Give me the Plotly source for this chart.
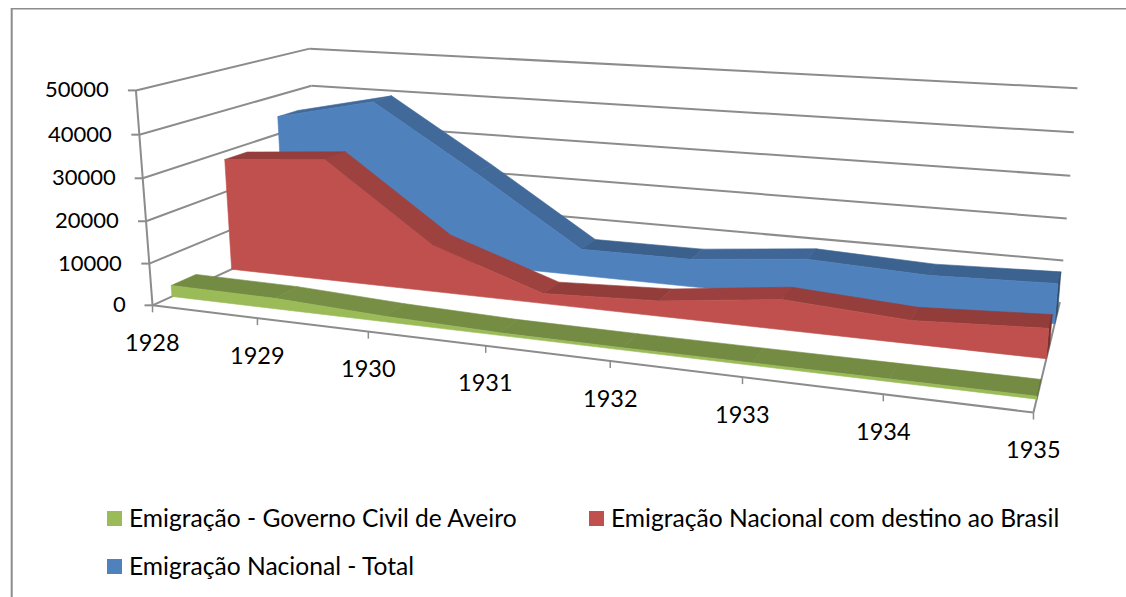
import numpy as np
import plotly.graph_objects as go

years = ["1928", "1929", "1930", "1931", "1932", "1933", "1934", "1935"]
aveiro = [2700, 2500, 1300, 600, 500, 500, 550, 600]
brasil = [28000, 30000, 11400, 2400, 3600, 6900, 5200, 6600]
total = [34500, 40000, 23800, 6700, 6800, 9500, 8400, 9300]
value_ticks = [0, 10000, 20000, 30000, 40000, 50000]
names = ["Emigração - Governo Civil de Aveiro",
         "Emigração Nacional com destino ao Brasil",
         "Emigração Nacional - Total"]
front_colors = ["#9BBB59", "#C0504D", "#4F81BD"]

W, H = 1126, 597
FONT = "Lato"
GRID = "#8C8C8C"
VMAX = 50000.0

# camera of the 3-D box, solved from where the box sits on the page
world = [(0, 0, 0), (1, 0, 0), (1, 1, 0), (0, 1, 0), (0, 0, 1), (0, 1, 1), (1, 1, 1),
         (1/7, 0, 0), (2/7, 0, 0), (3/7, 0, 0), (4/7, 0, 0), (5/7, 0, 0), (6/7, 0, 0)]
page = [(152.7, 303.3), (1034, 411.7), (1060, 300), (318, 232), (135.7, 91), (310, 47.3), (1077.3, 89.3),
        (257.7, 319), (368.3, 331.7), (485.7, 344), (610, 361), (742.3, 378), (883, 396.7)]
A, b = [], []
for (X, Y, Z), (u, v) in zip(world, page):
    A.append([X, Y, Z, 1, 0, 0, 0, 0, -u*X, -u*Y, -u*Z]); b.append(u)
    A.append([0, 0, 0, 0, X, Y, Z, 1, -v*X, -v*Y, -v*Z]); b.append(v)
p = np.linalg.lstsq(np.array(A, float), np.array(b, float), rcond=None)[0]
P = np.append(p, 1.0).reshape(3, 4)


def proj(pts):
    pts = np.asarray(pts, float)
    h = P @ np.c_[pts, np.ones(len(pts))].T
    return h[0] / h[2], h[1] / h[2]


def shade(hex_color, f):
    rgb = [int(hex_color[i:i+2], 16) for i in (1, 3, 5)]
    return "rgb(%d,%d,%d)" % tuple(round(c * f) for c in rgb)


fig = go.Figure()


def poly(pts, color):
    x, y = proj(pts)
    fig.add_trace(go.Scatter(x=list(x) + [x[0]], y=list(y) + [y[0]], mode="lines", fill="toself",
                             fillcolor=color, line=dict(color=color, width=0.6),
                             hoverinfo="skip", showlegend=False))


def line(a, b_, color=GRID, width=2):
    x, y = proj([a, b_])
    fig.add_trace(go.Scatter(x=list(x), y=list(y), mode="lines", line=dict(color=color, width=width),
                             hoverinfo="skip", showlegend=False))


# walls
for t in value_ticks:
    z = t / VMAX
    line((0, 0, z), (0, 1, z))
    if t > 0:
        line((0, 1, z), (1, 1, z))
line((0, 0, 0), (0, 0, 1))
line((0, 0, 0), (1, 0, 0))
line((1, 0, 0), (1, 1, 0))

n = len(years)
xs = [i / (n - 1) for i in range(n)]
for x in xs:
    px, py = proj([(x, 0, 0)])
    fig.add_trace(go.Scatter(x=[px[0], px[0]], y=[py[0], py[0] + 7], mode="lines",
                             line=dict(color=GRID, width=1.5), hoverinfo="skip", showlegend=False))
for t in value_ticks:
    px, py = proj([(0, 0, t / VMAX)])
    fig.add_trace(go.Scatter(x=[px[0] - 8, px[0]], y=[py[0], py[0]], mode="lines",
                             line=dict(color=GRID, width=2), hoverinfo="skip", showlegend=False))

# areas, back to front
slot = 1 / 3
width = slot / 2.5
series = [aveiro, brasil, total]
for k in (2, 1, 0):
    vals = series[k]
    col = front_colors[k]
    d0 = (k + 0.5) * slot - width / 2
    d1 = d0 + width
    for i in range(n - 1):
        dv = abs(vals[i + 1] - vals[i])
        f = 0.74 + 0.08 * min(1, dv / 4000)
        poly([(xs[i], d0, vals[i] / VMAX), (xs[i + 1], d0, vals[i + 1] / VMAX),
              (xs[i + 1], d1, vals[i + 1] / VMAX), (xs[i], d1, vals[i] / VMAX)], shade(col, f))
    poly([(1, d0, 0), (1, d1, 0), (1, d1, vals[-1] / VMAX), (1, d0, vals[-1] / VMAX)], shade(col, 0.6))
    poly([(xs[i], d0, vals[i] / VMAX) for i in range(n)] + [(1, d0, 0), (0, d0, 0)], col)

ann = []
for t in value_ticks:
    px, py = proj([(0, 0, t / VMAX)])
    ann.append(dict(x=px[0] - 25, y=py[0] - 1.5, text=str(t), xanchor="right", yanchor="middle", font_size=22))
for x, yr in zip(xs, years):
    px, py = proj([(x, 0, 0)])
    ann.append(dict(x=px[0], y=py[0] + 36.5, text=yr, xanchor="center", yanchor="middle", font_size=23.5))

# legend
leg_x = [107, 589, 107]
leg_y = [518.5, 518.5, 566.5]
for name, col, lx, ly in zip(names, front_colors, leg_x, leg_y):
    fig.add_trace(go.Scatter(x=[lx + 7.5], y=[ly], mode="markers", name=name,
                             marker=dict(symbol="square", size=15, color=col, line=dict(width=0)),
                             hoverinfo="skip", showlegend=False))
    ann.append(dict(x=lx + 20, y=ly - 1, text=name, xanchor="left", yanchor="middle", font_size=24.6))

for a in ann:
    size = a.pop("font_size")
    a.update(xref="x", yref="y", showarrow=False, font=dict(family=FONT, size=size, color="#000000"))

fig.update_layout(
    width=W, height=H, autosize=False, margin=dict(l=0, r=0, t=0, b=0),
    paper_bgcolor="white", plot_bgcolor="white", showlegend=False, annotations=ann,
    xaxis=dict(range=[0, W], visible=False, fixedrange=True),
    yaxis=dict(range=[H, 0], visible=False, fixedrange=True),
    shapes=[dict(type="line", xref="x", yref="y", x0=11.7, y0=8, x1=11.7, y1=H, line=dict(color="#8C8C8C", width=2), layer="below"),
            dict(type="line", xref="x", yref="y", x0=11, y0=8.7, x1=W, y1=8.7, line=dict(color="#8C8C8C", width=1.4), layer="below")],
)
fig.write_html("out.html", config={"displayModeBar": False},
               post_script="document.body.style.margin='0';document.documentElement.style.overflow='hidden';")
